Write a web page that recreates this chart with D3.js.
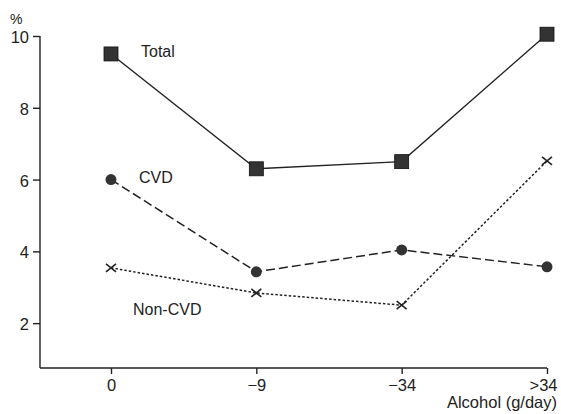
<!DOCTYPE html>
<html>
<head>
<meta charset="utf-8">
<script src="https://cdn.jsdelivr.net/npm/d3@7"></script>
<style>
  html, body { margin: 0; padding: 0; background: #fff; }
  svg { display: block; font-family: "Liberation Sans", Arial, sans-serif; }
  .axis text { fill: #222; font-size: 16.5px; }
  .axis line, .axis path { stroke: #222; stroke-width: 1.4; }
</style>
</head>
<body>
<svg id="chart" width="561" height="414"></svg>
<script>
// Alcohol intake categories (g/day)
const categories = ["0", "\u22129", "\u221234", ">34"];
// Mortality (%) by category
const totalValues = [9.5, 6.3, 6.5, 10.05];
const cvdValues = [6.0, 3.43, 4.04, 3.57];
const nonCvdValues = [3.54, 2.84, 2.5, 6.52];
const yTicks = [2, 4, 6, 8, 10];

const svg = d3.select("#chart");
const ink = "#222";
const markFill = "#333";

const x = d3.scalePoint().domain(categories).range([111, 547]);
const y = d3.scaleLinear().domain([0.75, 10]).range([368, 36]);
const axisLeftX = 40;

// y axis
const yAxis = svg.append("g")
  .attr("class", "axis")
  .attr("transform", `translate(${axisLeftX},0)`)
  .call(d3.axisLeft(y).tickValues(yTicks).tickSize(7).tickSizeOuter(0).tickPadding(4).tickFormat(d3.format("d")));
yAxis.select(".domain").remove();
yAxis.selectAll(".tick text").attr("dy", "0.4em");
yAxis.append("line")
  .attr("x1", 0).attr("x2", 0)
  .attr("y1", y(10)).attr("y2", y(0.75))
  .attr("stroke", ink).attr("stroke-width", 1.4);

// x axis
const xAxis = svg.append("g")
  .attr("class", "axis")
  .attr("transform", `translate(0,${y(0.75)})`)
  .call(d3.axisBottom(x).tickSize(6).tickSizeOuter(0).tickPadding(5));
xAxis.select(".domain").remove();
xAxis.append("line")
  .attr("x1", axisLeftX).attr("x2", x(">34"))
  .attr("y1", 0).attr("y2", 0)
  .attr("stroke", ink).attr("stroke-width", 1.4);
xAxis.selectAll(".tick").filter(d => d === ">34").select("text")
  .attr("text-anchor", "end").attr("dx", "10");

// unit label and x axis title
svg.append("text").attr("x", 10).attr("y", 24)
  .attr("font-size", 14).attr("fill", ink).text("%");
svg.append("text").attr("x", 557).attr("y", 408)
  .attr("text-anchor", "end").attr("font-size", 16.5).attr("fill", ink).text("Alcohol (g/day)");

const line = d3.line().x((d, i) => x(categories[i])).y(d => y(d));

// Total: solid line with square markers
svg.append("path").datum(totalValues)
  .attr("d", line).attr("fill", "none").attr("stroke", ink).attr("stroke-width", 1.4);
svg.selectAll(".sq").data(totalValues).enter().append("rect")
  .attr("x", (d, i) => x(categories[i]) - 7)
  .attr("y", d => y(d) - 7)
  .attr("width", 14).attr("height", 14)
  .attr("fill", markFill).attr("stroke", "#111").attr("stroke-width", 0.8);

// CVD: dashed line with circle markers
svg.append("path").datum(cvdValues)
  .attr("d", line).attr("fill", "none").attr("stroke", ink).attr("stroke-width", 1.5)
  .attr("stroke-dasharray", "9,4");
svg.selectAll(".dot").data(cvdValues).enter().append("circle")
  .attr("cx", (d, i) => x(categories[i]))
  .attr("cy", d => y(d))
  .attr("r", 5.5)
  .attr("fill", markFill);

// Non-CVD: dotted line with cross markers
svg.append("path").datum(nonCvdValues)
  .attr("d", line).attr("fill", "none").attr("stroke", ink).attr("stroke-width", 1.5)
  .attr("stroke-dasharray", "2.5,2");
svg.selectAll(".cross").data(nonCvdValues).enter().append("path")
  .attr("transform", (d, i) => `translate(${x(categories[i])},${y(d)})`)
  .attr("d", "M-5,-4L5,4M-5,4L5,-4")
  .attr("stroke", ink).attr("stroke-width", 1.6).attr("fill", "none");

// series labels
const labelFont = 16;
svg.append("text").attr("x", 141).attr("y", 57).attr("font-size", labelFont).attr("fill", ink).text("Total");
svg.append("text").attr("x", 139).attr("y", 183).attr("font-size", labelFont).attr("fill", ink).text("CVD");
svg.append("text").attr("x", 133).attr("y", 315).attr("font-size", labelFont).attr("fill", ink).text("Non-CVD");
</script>
</body>
</html>
